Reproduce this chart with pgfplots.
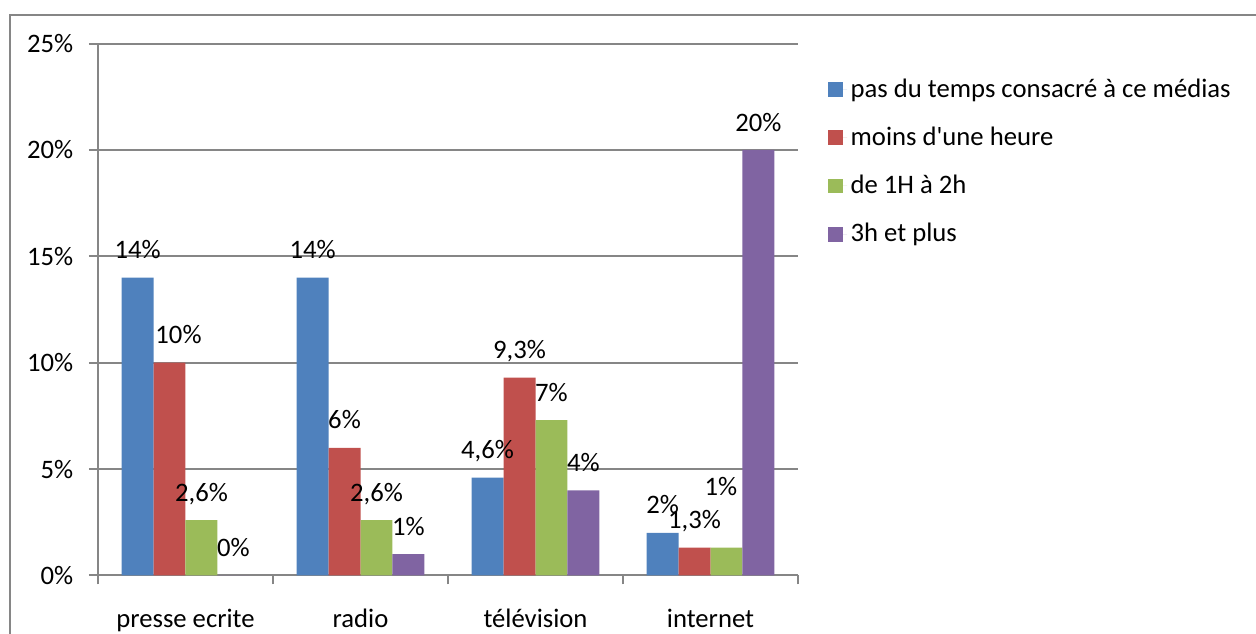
\documentclass[border=0pt]{standalone}
\usepackage{fontspec}
\setmainfont{Carlito}[Ligatures=TeXOff]
\usepackage{pgfplots}
\usepackage{pgfplotstable}
\pgfplotsset{compat=1.18}
\definecolor{cBlue}{RGB}{79,129,189}
\definecolor{cRed}{RGB}{192,80,77}
\definecolor{cGreen}{RGB}{155,187,89}
\definecolor{cPurple}{RGB}{128,100,162}
\definecolor{gridgray}{RGB}{134,134,134}

\pgfplotstableread{
x y lab dx dy
0 14 14 0 0
1 14 14 0 0
2 4.6 4,6 0 0
3 2 2 0 0
}\tblA
\pgfplotstableread{
x y lab dx dy
0 10 10 9 0
1 6 6 0 0
2 9.3 9,3 0 0
3 1.3 1,3 0 0
}\tblB
\pgfplotstableread{
x y lab dx dy
0 2.6 2,6 0 0
1 2.6 2,6 0 0
2 7.3 7 0 0
3 1.3 1 -5.5 33
}\tblC
\pgfplotstableread{
x y lab dx dy
0 0 0 0 0
1 1 1 0 0
2 4 4 0 0
3 20 20 0 0
}\tblD

\begin{document}
\begin{tikzpicture}
\path[use as bounding box] (0,0) rectangle (471pt,237.75pt);
\draw[gridgray, line width=0.75pt] (3.75pt,0) -- (3.75pt,232.1pt) -- (471pt,232.1pt);
\begin{axis}[
  at={(36.75pt,21.98pt)}, anchor=south west,
  scale only axis, width=262.5pt, height=199.4pt,
  xmin=-0.5, xmax=3.5, ymin=0, ymax=25,
  axis x line=bottom, axis y line=left,
  axis line style={-, draw=gridgray, line width=0.75pt},
  ytick={0,5,10,15,20,25},
  yticklabels={0\%,5\%,10\%,15\%,20\%,25\%},
  ymajorgrids, major grid style={draw=gridgray, line width=0.75pt},
  tick align=outside,
  major tick length=3.4pt, minor tick length=3.4pt,
  tick style={draw=gridgray, line width=0.75pt},
  xtick={0,1,2,3},
  x tick style={draw=none},
  minor xtick={-0.5,0.5,1.5,2.5,3.5},
  minor x tick style={draw=gridgray, line width=0.75pt},
  xticklabels={presse ecrite,radio,télévision,internet},
  xticklabel style={anchor=base, yshift=-16.1pt},
  yticklabel style={xshift=-2.4pt},
  ybar, bar width=0.1826,
  point meta=explicit symbolic,
  nodes near coords={\pgfplotspointmeta\%},
  visualization depends on={\thisrow{dx} \as \ddx},
  visualization depends on={\thisrow{dy} \as \ddy},
  every node near coord/.append style={anchor=base, text=black, inner sep=0pt,
     xshift={0.375pt*\ddx}, yshift={7.1pt+0.375pt*\ddy}},
  legend style={draw=none, fill=none, at={(1.031,0.952)}, anchor=north west,
     legend cell align=left, row sep=7pt, column sep=0pt,
     nodes={inner sep=1.3pt}},
]
\addplot[fill=cBlue, draw=none, bar shift=-0.2739,
  legend image code/.code={\fill[cBlue] (0pt,-2.8pt) rectangle (5.6pt,2.8pt);\path (0pt,0pt) -- (7.1pt,0pt);}]
  table[x=x, y=y, meta=lab] {\tblA};
\addlegendentry{pas du temps consacré à ce médias}
\addplot[fill=cRed, draw=none, bar shift=-0.0913,
  legend image code/.code={\fill[cRed] (0pt,-2.8pt) rectangle (5.6pt,2.8pt);\path (0pt,0pt) -- (7.1pt,0pt);}]
  table[x=x, y=y, meta=lab] {\tblB};
\addlegendentry{moins d'une heure}
\addplot[fill=cGreen, draw=none, bar shift=0.0913,
  legend image code/.code={\fill[cGreen] (0pt,-2.8pt) rectangle (5.6pt,2.8pt);\path (0pt,0pt) -- (7.1pt,0pt);}]
  table[x=x, y=y, meta=lab] {\tblC};
\addlegendentry{de 1H à 2h}
\addplot[fill=cPurple, draw=none, bar shift=0.2739,
  legend image code/.code={\fill[cPurple] (0pt,-2.8pt) rectangle (5.6pt,2.8pt);\path (0pt,0pt) -- (7.1pt,0pt);}]
  table[x=x, y=y, meta=lab] {\tblD};
\addlegendentry{3h et plus}
\end{axis}
\end{tikzpicture}
\end{document}
